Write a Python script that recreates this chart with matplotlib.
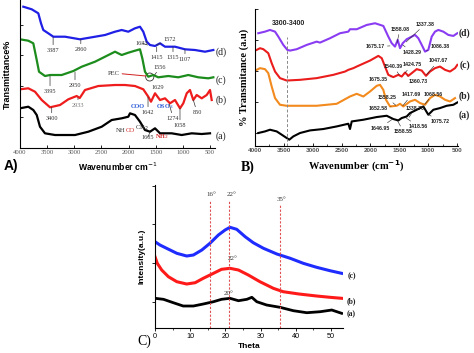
import matplotlib
matplotlib.use('Agg')
import matplotlib.pyplot as plt
from matplotlib.patches import Ellipse

# ---------------- panel A : FTIR, wavenumber (cm-1) vs transmittance (arb.)
A_wn_d = [3939, 3784, 3663, 3613, 3571, 3479, 3387, 3171, 2895, 2679, 2434, 2250, 2127,
          2005, 1882, 1790, 1729, 1666, 1605, 1513, 1421, 1329, 1145, 961, 777, 592, 439]
A_t_d = [141.3, 138.7, 134.7, 124.7, 118, 114.7, 111.3, 111.3, 108.7, 110.7, 113, 116.3, 118,
         116.3, 119.7, 121.3, 116.3, 106.3, 103, 102, 104.7, 101.3, 101.3, 98.7, 98, 96.3, 98]
A_wn_c = [4000, 3847, 3755, 3692, 3650, 3540, 3447, 3232, 3018, 2863, 2618, 2434, 2250, 2127,
          2005, 1882, 1790, 1747, 1698, 1637, 1545, 1453, 1268, 1084, 900, 716, 532, 439]
A_t_c = [108.7, 107.3, 104.7, 88, 76.3, 72, 73, 73, 77, 81.3, 86.3, 91.3, 96.3, 93,
         95.3, 97.3, 98.7, 89.7, 76.3, 71.3, 73, 70.7, 72, 70.7, 73, 70.7, 69.7, 70.7]
A_wn_b = [4000, 3847, 3724, 3600, 3447, 3263, 3110, 2956, 2900, 2803, 2558, 2250, 2066, 1882,
          1729, 1637, 1587, 1513, 1421, 1329, 1237, 1145, 1053, 992, 929, 869, 808, 745,
          653, 561, 500, 469]
A_t_b = [58.7, 59.7, 56.3, 48, 40.7, 43, 48.7, 52, 50, 58, 62, 63, 63, 62,
         58.7, 51.3, 46.3, 54.7, 48, 49.7, 44.7, 48, 39.7, 44.7, 54.7, 58, 48, 53,
         49.7, 53, 58, 48]
A_wn_a = [4000, 3847, 3755, 3692, 3632, 3540, 3355, 2987, 2742, 2495, 2311, 2127, 2005, 1974,
          1882, 1790, 1698, 1605, 1513, 1421, 1206, 1021, 837, 653, 500]
A_t_a = [39.7, 41.3, 38, 33, 21.3, 14.7, 13, 13, 16.3, 21.3, 28, 29.7, 31.3, 34.7,
         33, 26.3, 18, 16.3, 19.7, 14.7, 14.7, 13, 14.7, 14, 14.7]

# ---------------- panel B : FTIR
B_wn_d = [3943, 3827, 3740, 3653, 3596, 3510, 3440, 3393, 3277, 3104, 2931, 2874, 2700, 2527,
          2383, 2354, 2238, 2064, 1920, 1776, 1690, 1631, 1574, 1527, 1487, 1440, 1371, 1284,
          1227, 1170, 1111, 1054, 997, 938, 881, 823, 737, 650, 563, 494]
B_t_d = [112.7, 114.3, 116, 114.3, 109.3, 101, 96, 95.3, 96.7, 101, 104.3, 103.3, 107.7, 112.7,
         114.3, 116.7, 116.7, 121, 122.7, 120, 109.3, 102.7, 99.3, 106, 97.7, 102.7, 106.7, 109.3,
         111, 107.7, 101, 94.3, 96, 109.3, 114.3, 116, 114.3, 111, 110, 112.7]
B_wn_c = [3971, 3913, 3856, 3770, 3711, 3653, 3567, 3451, 3220, 2931, 2643, 2440, 2383, 2296,
          2238, 2007, 1863, 1804, 1747, 1690, 1603, 1517, 1458, 1400, 1343, 1284, 1198, 1111,
          1037, 967, 881, 794, 707, 621, 534, 494]
B_t_c = [96, 97.7, 96.7, 92.7, 82.7, 74.3, 67.7, 65.3, 66, 67.7, 71, 74.3, 76, 77.7,
         79.3, 85.3, 90, 87.7, 79.3, 71, 68.7, 71, 69.3, 73.3, 70, 72.7, 76.7, 75.3,
         70, 74.3, 77.7, 79.3, 76, 74.3, 77.7, 81]
B_wn_b = [3971, 3913, 3827, 3770, 3711, 3653, 3567, 3451, 2931, 2584, 2354, 2238, 2123, 2007,
          1891, 1834, 1777, 1730, 1660, 1544, 1487, 1430, 1314, 1227, 1140, 1054, 967, 881,
          794, 707, 621, 534]
B_t_b = [76, 77.7, 76.7, 72.7, 59.3, 47.7, 41, 40, 40, 42, 49.3, 52, 49.3, 54.3,
         60, 61, 56, 46, 39.3, 40, 42, 39.3, 44.3, 46, 42.7, 41, 47.7, 51,
         49.3, 46, 44.3, 47.7]
B_wn_a = [3943, 3827, 3740, 3624, 3537, 3451, 3406, 3336, 3220, 3047, 2816, 2584, 2383, 2354,
          2324, 2123, 1891, 1718, 1603, 1517, 1458, 1371, 1314, 1198, 1083, 997, 910, 794,
          678, 563, 494]
B_t_a = [12.7, 14.3, 16, 14.3, 11, 7.7, 6, 9.3, 12.7, 15.3, 16.7, 19.3, 22, 16.7,
         24.3, 26, 28.7, 30, 26.7, 25.3, 27.7, 29.3, 32.7, 36, 39.3, 31, 36, 37.7,
         40, 41, 43.3]

# ---------------- panel C : XRD, theta vs intensity (a.u.)
C_th_c = [0, 1.4, 3.3, 6.2, 9.0, 10.9, 13.3, 15.6, 18.0, 19.9, 21.3, 23.2, 25.6, 27.9,
          30.8, 34.6, 38.4, 42.1, 45.9, 49.7, 53.0]
C_i_c = [85.8, 82.5, 79.2, 74.2, 71.5, 72.5, 77.5, 84.2, 92.5, 97.5, 100.2, 98.2, 90.8, 84.8,
         79.2, 73.5, 69.2, 64.2, 60.2, 56.8, 54.2]
C_th_b = [0, 0.65, 1.9, 3.8, 6.2, 9.0, 11.4, 13.7, 16.6, 18.9, 21.3, 23.7, 26.5, 29.8,
          33.6, 36.4, 40.9, 45.9, 49.7, 53.0]
C_i_b = [70.8, 64.2, 57.5, 50.8, 45.8, 43.5, 44.8, 49.2, 54.2, 58.2, 59.2, 57.5, 52.5, 45.8,
         39.2, 35.8, 33.5, 31.5, 30.2, 29.2]
C_th_a = [0, 2.4, 5.2, 8.0, 10.9, 13.7, 16.6, 18.9, 21.3, 23.7, 26.1, 27.5, 28.9, 31.7,
          35.5, 39.3, 43.1, 46.9, 50.2, 53.0]
C_i_a = [29.2, 28.2, 24.8, 21.5, 21.5, 23.5, 25.8, 28.2, 29.2, 26.8, 28.2, 30.2, 25.8, 22.5,
         20.2, 16.8, 14.8, 15.8, 17.5, 14.2]
C_peaks = [15.5, 21.1, 35.4]
C_peak_labels = ['16°', '22°', '35°']

SERIF = 'Liberation Serif'
SANS = 'Liberation Sans'
GREY = '#555555'

fig = plt.figure(figsize=(4.74, 3.53), dpi=100)


def base_axes(rect, tickdir):
    ax = fig.add_axes(rect)
    for s in ('top', 'right'):
        ax.spines[s].set_visible(False)
    for s in ('left', 'bottom'):
        ax.spines[s].set_linewidth(0.8)
    ax.tick_params(direction=tickdir, length=2.5, width=0.6, pad=1.5)
    ax.tick_params(which='minor', direction=tickdir, length=1.5, width=0.5)
    return ax


def note(ax, txt, xt, yt, xp=None, yp=None, color='#333333', size=4.5, **kw):
    if xp is None:
        ax.text(xt, yt, txt, ha='center', va='center', fontsize=size, color=color,
                family=SERIF, clip_on=False, **kw)
    else:
        ax.annotate(txt, xy=(xp, yp), xytext=(xt, yt), ha='center', va='center',
                    fontsize=size, color=color, family=SERIF,
                    arrowprops=dict(arrowstyle='-', lw=0.5, color='#333333',
                                    shrinkA=0, shrinkB=0), **kw)


# ================= A
axA = base_axes([0.0422, 0.5807, 0.4114, 0.4193], 'in')
axA.plot(A_wn_d, A_t_d, color='#1f1fe6', lw=1.6)
axA.plot(A_wn_c, A_t_c, color='#1c8c1c', lw=1.6)
axA.plot(A_wn_b, A_t_b, color='#ee1c1c', lw=1.6)
axA.plot(A_wn_a, A_t_a, color='black', lw=1.6)
axA.set_xlim(4000, 408)
axA.set_ylim(0, 148)
axA.set_xticks(range(4000, 499, -500))
axA.set_yticks([31, 62, 93, 123])
axA.set_yticklabels([])
for lab in axA.get_xticklabels():
    lab.set_fontsize(4.8)
    lab.set_family(SERIF)
    lab.set_color(GREY)
axA.set_xlabel('Wavenumber cm$^{-1}$', fontsize=6.2, fontweight='bold', family=SANS, labelpad=4)
axA.set_ylabel('Transmittance%', fontsize=6.5, fontweight='bold', family=SANS, labelpad=4)

note(axA, '3387', 3390, 98, 3390, 111)
note(axA, '2860', 2880, 99, 2880, 108.7)
note(axA, '1633', 1760, 105, 1650, 103)
note(axA, '1572', 1237, 109, 1480, 103)
note(axA, '1415', 1482, 91, 1482, 101)
note(axA, '1315', 1182, 91, 1182, 101)
note(axA, '1107', 961, 89, 961, 98.7)
note(axA, '3395', 3447, 57, 3447, 72)
note(axA, '2950', 2987, 63, 2987, 76)
note(axA, '1556', 1421, 81, 1520, 73)
note(axA, '1629', 1458, 61)
axA.annotate('PEC', xy=(1680, 72), xytext=(2280, 75), ha='center', va='center',
             fontsize=4.8, family=SERIF, color='#333333',
             arrowprops=dict(arrowstyle='-', lw=0.7, color='#d02020', shrinkA=0, shrinkB=0))
axA.add_patch(Ellipse((1610, 71), 150, 8, fill=False, lw=0.6, ec='#333333'))
note(axA, '3400', 3416, 30, 3416, 40.7)
note(axA, '2933', 2932, 43, 2932, 50, color='#777777')
note(axA, 'COO', 1826, 42, color='#2a5ad8', fontweight='bold')
note(axA, '1642', 1642, 36, 1642, 51)
note(axA, 'OSO$_3$', 1329, 41, color='#2a5ad8', fontweight='bold')
note(axA, '1274', 1182, 30, 1250, 44)
note(axA, '1058', 1053, 23, 1053, 39.7)
note(axA, '850', 740, 36, 808, 48)
t1 = axA.text(2230, 18, 'NH', fontsize=4.8, family=SERIF, color='#333333', va='center')
t2 = axA.annotate('CO', xycoords=t1, xy=(1, 0), va='bottom', fontsize=4.8, family=SERIF,
                  color='#d02020')
axA.annotate('CH$_2$', xycoords=t2, xy=(1, 0), va='bottom', fontsize=4.8, family=SERIF,
             color='#333333')
note(axA, '1605', 1642, 11, 1605, 16)
note(axA, 'NH$_2$', 1384, 11, color='#d02020', fontweight='bold')
for lab, y in (('(d)', 96.3), ('(c)', 68), ('(b)', 48), ('(a)', 12)):
    note(axA, lab, 290, y, size=7, color='#222222')
fig.text(0.008, 0.519, 'A)', fontsize=10, fontweight='bold', family=SANS)

# ================= B
axB = base_axes([0.538, 0.5873, 0.4283, 0.3864], 'in')
axB.plot(B_wn_d, B_t_d, color='#8a3cf2', lw=1.5)
axB.plot(B_wn_c, B_t_c, color='#ea1c1c', lw=1.5)
axB.plot(B_wn_b, B_t_b, color='#f28a1e', lw=1.5)
axB.plot(B_wn_a, B_t_a, color='black', lw=1.5)
axB.axvline(3440, ymax=0.8, color='#888888', lw=0.7, ls=(0, (3, 2)))
axB.text(3420, 122.7, '3300-3400', fontsize=5, fontweight='bold', family=SANS,
         ha='center', va='center', color='#222222')
axB.set_xlim(4000, 482)
axB.set_ylim(0, 136.7)
axB.set_xticks(range(4000, 499, -500))
axB.set_xticks(range(3750, 499, -500), minor=True)
axB.set_yticks([12.7, 43.3, 75, 106, 136.7])
axB.set_yticklabels([])
for lab in axB.get_xticklabels():
    lab.set_fontsize(4.6)
    lab.set_family(SANS)
    lab.set_fontweight('bold')
    lab.set_color(GREY)
axB.set_xlabel('Wavenumber (cm$^{\\mathbf{-1}}$)', fontsize=7.5, fontweight='bold',
               family=SERIF, labelpad=4)
axB.set_ylabel('% Transmitance (a.u)', fontsize=7.5, fontweight='bold', family=SERIF,
               labelpad=3)

bnotes = [('1675.17', 1920, 99.3, 1660, 100),
          ('1558.08', 1487, 116.7, 1540, 103),
          ('1337.38', 1054, 121.7, 1380, 104),
          ('1428.29', 1284, 93.7, 1440, 101),
          ('1086.38', 794, 99.3, 1030, 95),
          ('1540.39', 1603, 79.3, 1500, 71),
          ('1424.75', 1284, 81, 1400, 73),
          ('1047.67', 823, 85, 1030, 71),
          ('1675.35', 1863, 66.7, 1640, 69),
          ('1360.73', 1170, 64.3, 1360, 70),
          ('1558.25', 1718, 48.3, 1560, 40.5),
          ('1417.69', 1284, 51, 1440, 40),
          ('1068.56', 910, 51.7, 1060, 41.5),
          ('1652.58', 1863, 37.7, 1640, 39.5),
          ('1338.70', 1227, 37.7, 1330, 28.5),
          ('1646.95', 1834, 17.7, 1620, 26.5),
          ('1558.55', 1430, 14.3, 1530, 25),
          ('1418.56', 1170, 19.3, 1400, 28.5),
          ('1075.72', 794, 24.3, 1000, 31.5)]
for txt, xt, yt, xp, yp in bnotes:
    axB.annotate(txt, xy=(xp, yp), xytext=(xt, yt), ha='center', va='center',
                 fontsize=3.8, fontweight='bold', family=SANS, color='#222222',
                 arrowprops=dict(arrowstyle='-', lw=0.4, color='#222222', shrinkA=0, shrinkB=0))
for lab, y in (('(d)', 112.7), ('(c)', 81), ('(b)', 49.3), ('(a)', 31)):
    axB.text(370, y, lab, fontsize=7, fontweight='bold', family=SERIF, ha='center',
             va='center', color='#222222', clip_on=False)
fig.text(0.507, 0.516, 'B)', fontsize=10, fontweight='bold', family=SERIF)

# ================= C
axC = base_axes([0.327, 0.0722, 0.396, 0.4037], 'out')
axC.plot(C_th_c, C_i_c, color='#1f2cff', lw=2.2)
axC.plot(C_th_b, C_i_b, color='#ff1a1a', lw=2.2)
axC.plot(C_th_a, C_i_a, color='black', lw=2.0)
for x, lab in zip(C_peaks, C_peak_labels):
    top = 133 if lab != '35°' else 128
    axC.plot([x, x], [0, top - 5], color='#e05050', lw=0.8, ls=(0, (2, 1.5)))
    axC.text(x + 0.5, top, lab, fontsize=5, family=SERIF, ha='center', va='center',
             color='#333333')
axC.text(22, 69, '22°', fontsize=5, family=SERIF, ha='center', va='center', color='#333333')
axC.text(21, 34, '20°', fontsize=5, family=SERIF, ha='center', va='center', color='#333333')
axC.set_xlim(0, 53.3)
axC.set_ylim(0, 142.5)
axC.set_xticks(range(0, 51, 10))
axC.set_xticks(range(5, 54, 10), minor=True)
axC.set_yticks([25.8, 64.8, 103.2, 141.5])
axC.set_yticklabels([])
for lab in axC.get_xticklabels():
    lab.set_fontsize(5.2)
    lab.set_family(SANS)
axC.set_xlabel('Theta', fontsize=6, fontweight='bold', family=SANS, labelpad=2)
axC.set_ylabel('Intensity(a.u.)', fontsize=6, fontweight='bold', family=SANS, labelpad=3)
for lab, y in (('(c)', 51.5), ('(b)', 26.5), ('(a)', 13.5)):
    axC.text(55.8, y, lab, fontsize=5.5, fontweight='bold', family=SERIF, ha='center',
             va='center', color='#222222', clip_on=False)
fig.text(0.29, 0.022, 'C)', fontsize=10, family=SERIF)

fig.savefig('out.png', dpi=100)
